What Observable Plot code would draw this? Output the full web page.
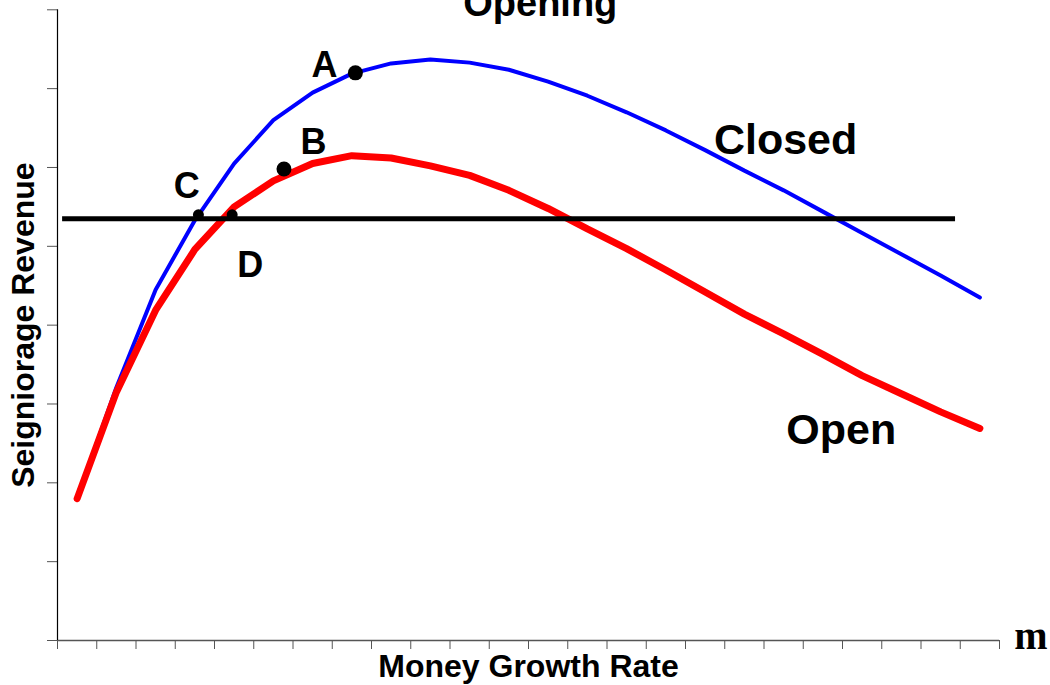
<!DOCTYPE html>
<html><head><meta charset="utf-8">
<script src="https://cdn.jsdelivr.net/npm/d3@7"></script>
<script src="https://cdn.jsdelivr.net/npm/@observablehq/plot@0.6"></script>
<style>body{margin:0;background:#fff;overflow:hidden} #chart svg{display:block;overflow:visible}</style>
</head><body><div id="chart"></div>
<script>
// Money growth rate positions (x, in tick units)
const moneyGrowth = [0.5,1.5,2.5,3.5,4.5,5.5,6.5,7.5,8.5,9.5,10.5,11.5,12.5,13.5,14.5,15.5,16.5,17.5,18.5,19.5,20.5,21.5,22.5,23.5];
// Seigniorage revenue, closed economy (blue)
const closedRevenue = [1.80,3.21,4.45,5.33,6.05,6.60,6.95,7.19,7.32,7.37,7.33,7.24,7.09,6.91,6.70,6.47,6.22,5.96,5.71,5.44,5.17,4.90,4.63,4.35];
// Seigniorage revenue, open economy (red)
const openRevenue = [1.80,3.15,4.19,4.96,5.50,5.83,6.05,6.15,6.12,6.02,5.90,5.71,5.48,5.22,4.97,4.70,4.42,4.14,3.89,3.63,3.36,3.13,2.90,2.69];
// Required revenue (horizontal line)
const requiredRevenue = [5.35];
const requiredFrom = [0.13];
const requiredTo = [22.88];
// Marked points
const pointNames = ["A","B","C","D"];
const pointX = [7.59,5.77,3.59,4.45];
const pointY = [7.20,5.98,5.40,5.40];
const pointSize = [7.5,7.5,5.5,5.5];
const pointLabelX = [6.80,6.52,3.29,4.91];
const pointLabelY = [7.30,6.32,5.76,4.76];
// Curve labels
const curveNames = ["Closed","Open"];
const curveLabelX = [18.55,19.97];
const curveLabelY = [6.35,2.67];
// Ticks
const xTicks = [0,1,2,3,4,5,6,7,8,9,10,11,12,13,14,15,16,17,18,19,20,21,22,23,24];
const yTicks = [0,1,2,3,4,5,6,7,8];
// Texts
const titleText = "Opening";
const xLabelText = "Money Growth Rate";
const yLabelText = "Seigniorage Revenue";
const xEndText = "m";

const closedData = moneyGrowth.map((x,i)=>({x, y: closedRevenue[i]}));
const openData = moneyGrowth.map((x,i)=>({x, y: openRevenue[i]}));
const points = pointNames.map((n,i)=>({n, x: pointX[i], y: pointY[i], r: pointSize[i], lx: pointLabelX[i], ly: pointLabelY[i]}));
const curves = curveNames.map((n,i)=>({n, x: curveLabelX[i], y: curveLabelY[i]}));
const hline = requiredRevenue.map((y,i)=>({y, x1: requiredFrom[i], x2: requiredTo[i]}));

const SANS = "'Liberation Sans', Arial, sans-serif";
const SERIF = "'Liberation Serif', 'Times New Roman', serif";

const chart = Plot.plot({
  width: 1050,
  height: 685,
  marginLeft: 57,
  marginRight: 51,
  marginTop: 9.3,
  marginBottom: 45,
  style: {background: "white", fontFamily: SANS},
  x: {domain: [0, 24]},
  y: {domain: [0, 8]},
  r: {type: "identity"},
  marks: [
    Plot.axisX({ticks: xTicks, tickSize: 9, tickFormat: () => "", stroke: "#555", label: null}),
    Plot.axisY({ticks: yTicks, tickSize: 10, tickFormat: () => "", stroke: "#555", label: null}),
    Plot.ruleY([0], {stroke: "#555", strokeWidth: 1.5}),
    Plot.ruleX([0], {stroke: "black", strokeWidth: 1.2}),
    Plot.line(closedData, {x: "x", y: "y", stroke: "#0000ff", strokeWidth: 4, strokeLinejoin: "miter"}),
    Plot.line(openData, {x: "x", y: "y", stroke: "#ff0000", strokeWidth: 7, strokeLinejoin: "miter"}),
    Plot.ruleY(hline, {y: "y", x1: "x1", x2: "x2", stroke: "black", strokeWidth: 5}),
    Plot.dot(points, {x: "x", y: "y", r: "r", fill: "black", stroke: null}),
    Plot.text(points, {x: "lx", y: "ly", text: "n", fontSize: 36, fontWeight: "bold", fill: "black", fontFamily: SANS}),
    Plot.text(curves, {x: "x", y: "y", text: "n", fontSize: 43, fontWeight: "bold", fill: "black", fontFamily: SANS}),
    Plot.text([titleText], {x: 12.3, y: 8.08, text: d => d, fontSize: 38, fontWeight: "bold", fill: "black", fontFamily: SANS, clip: false}),
    Plot.text([xLabelText], {x: 12.0, y: -0.336, text: d => d, fontSize: 32, fontWeight: "bold", fill: "black", fontFamily: SANS}),
    Plot.text([yLabelText], {x: -0.866, y: 4.0, text: d => d, rotate: -90, fontSize: 32, fontWeight: "bold", fill: "black", fontFamily: SANS}),
    Plot.text([xEndText], {x: 24.8, y: 0.06, text: d => d, fontSize: 40, fontWeight: "bold", fill: "black", fontFamily: SERIF})
  ]
});
document.getElementById("chart").append(chart);
</script>
</body></html>
